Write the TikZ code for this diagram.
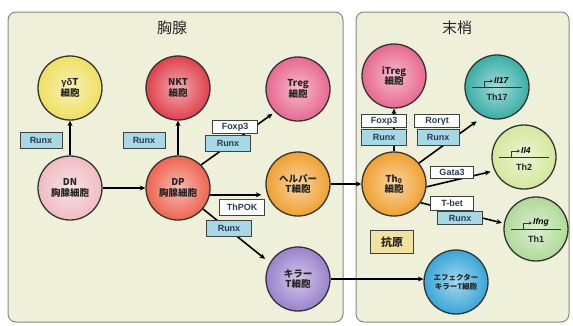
\documentclass[tikz,border=0pt]{standalone}
\usepackage{fontspec}
\setmainfont{Liberation Sans}
\newfontfamily\jp{Noto Sans CJK JP}
\usetikzlibrary{arrows.meta}
\definecolor{panel}{HTML}{EEF0DA}
\definecolor{panelline}{HTML}{8A8A80}
\definecolor{runxfill}{HTML}{A6D8E6}
\definecolor{boxtext}{HTML}{2A3A55}
\definecolor{cyel}{HTML}{EEE060}
\definecolor{cred}{HTML}{E0404C}
\definecolor{cpink}{HTML}{E86890}
\definecolor{clpink}{HTML}{F0BCC2}
\definecolor{corred}{HTML}{EE6450}
\definecolor{corange}{HTML}{F0A030}
\definecolor{cpurple}{HTML}{9A82CC}
\definecolor{cteal}{HTML}{38AEA6}
\definecolor{clgreen}{HTML}{D4E89C}
\definecolor{cgreen}{HTML}{B0DA98}
\definecolor{cblue}{HTML}{38A6D8}
\definecolor{antigen}{HTML}{F2E2A0}
\tikzset{
  cell/.style={circle, draw=black!80, line width=1.3pt, minimum size=64pt, inner sep=0pt,
    align=center, font=\jp\bfseries\fontsize{9.5}{10.5}\selectfont, text=black!85,
    inner color=#1!45!white, outer color=#1},
  genebox/.style={draw=black!75, line width=0.8pt, fill=white, inner sep=0pt,
    minimum width=45pt, minimum height=13pt, font=\bfseries\fontsize{9}{9}\selectfont, text=boxtext},
  runxbox/.style={genebox, fill=runxfill, minimum height=16pt},
  arr/.style={line width=1.6pt, -{Stealth[length=5.5pt,width=5pt]}},
  dna/.style={line width=0.7pt, black!80},
  title/.style={font=\jp\fontsize{15}{16}\selectfont, text=black!85},
}
\begin{document}
\begin{tikzpicture}[x=1pt,y=-1pt]
\useasboundingbox (0,0) rectangle (573,325);
\fill[white] (0,0) rectangle (573,325);
% panels
\draw[panelline, fill=panel, line width=1pt, rounded corners=8pt] (8,12) rectangle (343,322);
\draw[panelline, fill=panel, line width=1pt, rounded corners=8pt] (356,12) rectangle (569,322);
\node[title] (t1) at (172,28) {胸腺};
\node[title] (t2) at (457,28) {末梢};
% cells
\node[cell=cyel] (gdT) at (70,88) {{\rmfamily γδ}T\\細胞};
\node[cell=cred] (nkt) at (178,88) {NKT\\細胞};
\node[cell=cpink] (treg) at (298,89) {Treg\\細胞};
\node[cell=clpink] (dn) at (70,188) {DN\\胸腺細胞};
\node[cell=corred] (dp) at (178,188) {DP\\胸腺細胞};
\node[cell=corange] (helper) at (298,184) {ヘルパー\\T細胞};
\node[cell=cpurple] (killer) at (298,279) {キラー\\T細胞};
\node[cell=cpink] (itreg) at (394,76) {iTreg\\細胞};
\node[cell=corange] (th0) at (394,184) {Th\textsubscript{0}\\細胞};
\node[cell=cteal] (th17) at (497,87) {};
\node[cell=clgreen] (th2) at (524,157) {};
\node[cell=cgreen] (th1) at (536,229) {};
\node[cell=cblue, font=\jp\bfseries\fontsize{7.5}{9}\selectfont] (eff) at (456,282) {エフェクター\\キラーT細胞};
% DNA drawings in Th cells
\foreach \c/\g/\t in {th17/Il17/Th17, th2/Il4/Th2, th1/Ifng/Th1}{
  \draw[dna] ([xshift=-25pt]\c.center) -- ([xshift=25pt]\c.center);
  \draw[dna, -{Stealth[length=3pt,width=3pt]}] ([xshift=-13pt]\c.center) -- ([xshift=-13pt,yshift=6pt]\c.center) -- ([xshift=-4pt,yshift=6pt]\c.center);
  \node[font=\bfseries\itshape\fontsize{8.5}{9}\selectfont, anchor=west, inner sep=0pt] at ([xshift=-3pt,yshift=7pt]\c.center) {\g};
  \node[font=\bfseries\fontsize{9}{9}\selectfont, inner sep=0pt, text=black!85] at ([yshift=-10pt]\c.center) {\t};
}
% arrows
\draw[arr] (dn) -- (gdT);
\draw[arr] (dp) -- (nkt);
\draw[arr] (dn) -- (dp);
\draw[arr, shorten >=3pt] (dp.45) -- (treg.225);
\draw[arr, shorten >=4pt] (dp.-12) -- (dp.-12 -| helper.west);
\draw[arr, shorten >=6pt] (dp.-40) -- (killer.150);
\draw[arr] (helper) -- (th0);
\draw[arr] (killer.east) -- (killer.east -| eff.west);
\draw[arr] (th0) -- (itreg);
\draw[arr, shorten >=8pt] (th0.40) -- (th17.245);
\draw[arr, shorten >=4pt] (th0.-5) -- (th2.205);
\draw[arr, shorten >=2pt] (th0.-35) -- (th1.170);
% gene boxes
\node[runxbox, minimum width=42pt] (r1) at (41,140) {Runx};
\node[runxbox, minimum width=42pt] (r2) at (144,140) {Runx};
\node[genebox] (f1) at (235,127) {Foxp3};
\node[runxbox] (r3) at (228,143) {Runx};
\node[genebox, minimum height=16pt] (tp) at (242,207) {ThPOK};
\node[runxbox] (r4) at (229,228) {Runx};
\node[genebox] (f2) at (384,121) {Foxp3};
\node[runxbox] (r5) at (384,137) {Runx};
\node[genebox] (ror) at (437,121) {Rorγt};
\node[runxbox, minimum width=42pt] (r6) at (438,137) {Runx};
\node[genebox, minimum width=43pt, minimum height=12pt] (g3) at (452,172) {Gata3};
\node[genebox, minimum width=43pt, minimum height=14pt] (tb) at (452,203) {T-bet};
\node[runxbox, minimum height=13pt] (r7) at (460,218) {Runx};
\node[draw=black!75, line width=1.2pt, fill=antigen, minimum width=43pt, minimum height=23pt,
  font=\jp\bfseries\fontsize{11}{12}\selectfont, text=black!85] (ag) at (392,242) {抗原};
\end{tikzpicture}
\end{document}
